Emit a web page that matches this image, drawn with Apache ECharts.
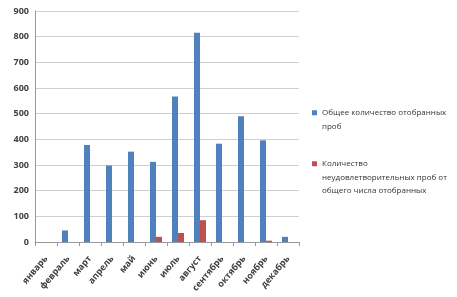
<!DOCTYPE html>
<html><head><meta charset="utf-8">
<script src="https://cdn.jsdelivr.net/npm/echarts@6/dist/echarts.min.js"></script>
<style>html,body{margin:0;padding:0;background:#fff}#c{width:457px;height:297px}</style>
</head><body><div id="c"></div>
<script>
var categories = ['январь','февраль','март','апрель','май','июнь','июль','август','сентябрь','октябрь','ноябрь','декабрь'];
var totalSamples = [0, 45, 378, 298, 352, 312, 567, 815, 383, 490, 396, 20];
var badSamples = [0, 0, 0, 0, 0, 20, 35, 85, 0, 0, 5, 0];
var seriesNames = ['Общее количество отобранных проб', 'Количество неудовлетворительных проб от общего числа отобранных'];
var legendLabels = {};
legendLabels[seriesNames[0]] = 'Общее количество отобранных\nпроб';
legendLabels[seriesNames[1]] = 'Количество\nнеудовлетворительных проб от\nобщего числа отобранных';

var chart = echarts.init(document.getElementById('c'), null, {renderer:'canvas'});
var legendText = {fontSize: 8, color: '#333', lineHeight: 13.5};
chart.setOption({
  animation: false,
  textStyle: {fontFamily: 'Open Sans'},
  grid: {left: 35, right: 158, top: 11, bottom: 55},
  legend: [
    {
      orient: 'vertical', left: 312, top: 106, padding: 0, itemWidth: 5, itemHeight: 27, itemGap: 3,
      icon: 'path://M0,4.25h5v5h-5z M0,0h0.01 M0,27h0.01', selectedMode: false,
      textStyle: legendText,
      data: [seriesNames[0]],
      formatter: function(n){ return legendLabels[n]; }
    },
    {
      orient: 'vertical', left: 312, top: 157, padding: 0, itemWidth: 5, itemHeight: 40.5, itemGap: 3,
      icon: 'path://M0,4.25h5v5h-5z M0,0h0.01 M0,40.5h0.01', selectedMode: false,
      textStyle: legendText,
      data: [seriesNames[1]],
      formatter: function(n){ return legendLabels[n]; }
    }
  ],
  xAxis: {
    type: 'category', data: categories,
    axisLine: {lineStyle: {color: '#999'}},
    axisTick: {show: true, lineStyle: {color: '#999'}, length: 4},
    axisLabel: {rotate: 50, fontSize: 9, fontWeight: 'bold', color: '#404040', interval: 0, margin: 15}
  },
  yAxis: {
    type: 'value', min: 0, max: 900, interval: 100,
    axisLine: {show: true, lineStyle: {color: '#999'}},
    axisTick: {show: false},
    axisLabel: {fontSize: 9, fontWeight: 'bold', color: '#404040', margin: 6},
    splitLine: {lineStyle: {color: '#d0d0d0'}}
  },
  series: [
    {name: seriesNames[0], type: 'bar', data: totalSamples, barWidth: 6, barGap: '0%', itemStyle: {color: '#4F81BD'}},
    {name: seriesNames[1], type: 'bar', data: badSamples, barWidth: 6, itemStyle: {color: '#C0504D'}}
  ]
});
</script></body></html>
